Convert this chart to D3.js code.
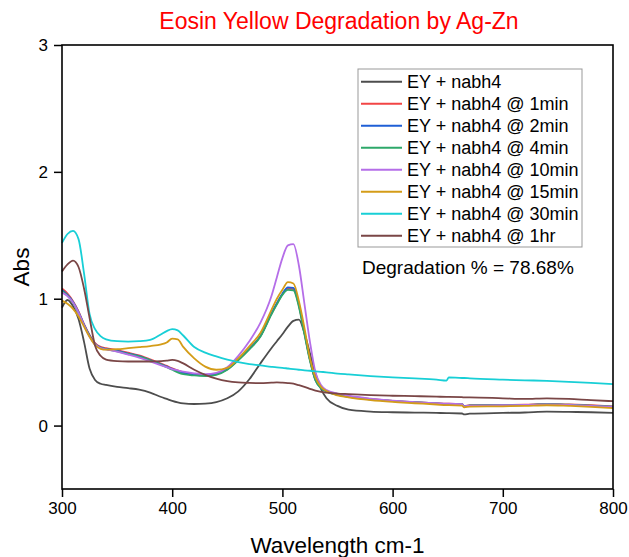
<!DOCTYPE html>
<html>
<head>
<meta charset="utf-8">
<script src="https://cdn.jsdelivr.net/npm/d3@7"></script>
<style>
  body { margin: 0; background: #fff; }
  svg { font-family: "Liberation Sans", Arial, sans-serif; }
</style>
</head>
<body>
<div class="container"></div>
<script>
const WIDTH = 629;
const HEIGHT = 557;

var wavelengths = [300,305,310,315,320,325,330,335,340,350,360,370,380,390,395,400,405,410,420,430,440,450,460,470,480,490,495,500,505,510,515,520,525,530,535,540,550,560,580,600,620,640,649,651,663,665,670,700,720,740,760,780,800];

var eyNabh4 = [0.93,0.99,0.94,0.84,0.66,0.45,0.36,0.33,0.32,0.305,0.295,0.283,0.26,0.225,0.21,0.195,0.183,0.175,0.17,0.173,0.185,0.215,0.27,0.365,0.49,0.61,0.665,0.72,0.78,0.825,0.835,0.73,0.57,0.41,0.29,0.215,0.155,0.125,0.11,0.105,0.102,0.1,0.098,0.098,0.095,0.088,0.094,0.1,0.103,0.11,0.108,0.105,0.1];
var at1min = [1.08,1.04,0.98,0.9,0.8,0.715,0.65,0.62,0.61,0.595,0.575,0.553,0.522,0.488,0.47,0.452,0.435,0.42,0.405,0.4,0.41,0.445,0.52,0.605,0.705,0.88,0.96,1.035,1.08,1.075,0.945,0.73,0.52,0.36,0.3,0.272,0.245,0.23,0.21,0.195,0.185,0.176,0.172,0.172,0.168,0.153,0.16,0.163,0.165,0.17,0.166,0.16,0.152];
var at2min = [1.07,1.03,0.975,0.895,0.795,0.71,0.645,0.615,0.605,0.588,0.568,0.547,0.517,0.483,0.465,0.447,0.43,0.416,0.4,0.396,0.408,0.445,0.52,0.605,0.705,0.885,0.965,1.04,1.09,1.085,0.955,0.735,0.52,0.36,0.298,0.27,0.242,0.226,0.206,0.192,0.182,0.173,0.169,0.169,0.166,0.15,0.157,0.159,0.161,0.167,0.163,0.156,0.147];
var at4min = [1.06,1.025,0.97,0.89,0.79,0.705,0.64,0.612,0.602,0.585,0.565,0.545,0.515,0.48,0.46,0.44,0.42,0.405,0.395,0.39,0.4,0.44,0.515,0.6,0.7,0.875,0.955,1.03,1.07,1.065,0.935,0.72,0.51,0.355,0.295,0.268,0.243,0.228,0.208,0.194,0.184,0.175,0.171,0.171,0.168,0.152,0.159,0.161,0.163,0.168,0.164,0.158,0.15];
var at10min = [1.05,1.02,0.97,0.89,0.79,0.7,0.64,0.61,0.6,0.583,0.56,0.535,0.505,0.475,0.46,0.445,0.435,0.425,0.412,0.405,0.415,0.46,0.55,0.665,0.81,1.02,1.17,1.32,1.42,1.43,1.26,0.96,0.66,0.42,0.32,0.28,0.252,0.235,0.212,0.196,0.185,0.176,0.172,0.172,0.168,0.152,0.158,0.16,0.162,0.167,0.163,0.156,0.147];
var at15min = [0.985,0.96,0.92,0.86,0.78,0.7,0.635,0.605,0.598,0.602,0.61,0.618,0.627,0.64,0.655,0.685,0.68,0.62,0.53,0.465,0.44,0.455,0.53,0.625,0.73,0.91,1.0,1.07,1.13,1.12,0.98,0.77,0.53,0.38,0.305,0.272,0.238,0.222,0.2,0.186,0.176,0.166,0.161,0.161,0.158,0.143,0.15,0.152,0.155,0.16,0.155,0.148,0.138];
var at30min = [1.44,1.51,1.535,1.47,1.2,0.88,0.76,0.705,0.68,0.665,0.662,0.665,0.675,0.72,0.745,0.76,0.75,0.71,0.62,0.575,0.545,0.52,0.5,0.485,0.475,0.463,0.458,0.455,0.45,0.445,0.44,0.435,0.432,0.428,0.424,0.42,0.41,0.403,0.39,0.38,0.372,0.362,0.355,0.38,0.375,0.375,0.372,0.362,0.357,0.352,0.345,0.336,0.326];
var at1hr = [1.215,1.27,1.3,1.25,1.08,0.85,0.63,0.55,0.52,0.508,0.505,0.505,0.505,0.508,0.512,0.518,0.51,0.49,0.44,0.4,0.37,0.35,0.34,0.336,0.334,0.338,0.34,0.338,0.335,0.33,0.318,0.305,0.29,0.275,0.266,0.26,0.252,0.248,0.24,0.235,0.232,0.228,0.226,0.226,0.224,0.222,0.222,0.215,0.21,0.215,0.21,0.2,0.192];

var seriesNames = ["EY + nabh4", "EY + nabh4 @ 1min", "EY + nabh4 @ 2min", "EY + nabh4 @ 4min",
                   "EY + nabh4 @ 10min", "EY + nabh4 @ 15min", "EY + nabh4 @ 30min", "EY + nabh4 @ 1hr"];
var seriesValues = [eyNabh4, at1min, at2min, at4min, at10min, at15min, at30min, at1hr];
var seriesColors = ["#4d4d4d", "#f24545", "#1f5fd6", "#2ea86a", "#b56ee8", "#d49c18", "#18cfd6", "#7a4646"];

var xTicks = [300, 400, 500, 600, 700, 800];
var yTicks = [0, 1, 2, 3];
var degradationLabel = "Degradation % = 78.68%";

var margin = {left: 62, right: 16, top: 45, bottom: 68};

var drawAxes = function(svg, x, y){
    var iw = WIDTH - margin.left - margin.right;
    var ih = HEIGHT - margin.top - margin.bottom;

    // minor ticks first, majors on top
    var xMinor = d3.range(350, 800, 100);
    var yMinor = [-0.5, 0.5, 1.5, 2.5];

    var gx = svg.append("g")
        .attr("transform", "translate(0," + (margin.top + ih) + ")");
    gx.call(d3.axisBottom(x).tickValues(xMinor).tickSize(5).tickFormat(""));
    gx.call(d3.axisBottom(x).tickValues(xTicks).tickSize(8).tickPadding(5).tickFormat(d3.format("d")));

    var gy = svg.append("g")
        .attr("transform", "translate(" + margin.left + ",0)");
    gy.call(d3.axisLeft(y).tickValues(yMinor).tickSize(5).tickFormat(""));
    gy.call(d3.axisLeft(y).tickValues(yTicks).tickSize(8).tickPadding(6).tickFormat(d3.format("d")));

    svg.selectAll(".domain").remove();
    svg.selectAll(".tick line").attr("stroke", "#000").attr("stroke-width", 1.5);
    svg.selectAll(".tick text")
        .attr("fill", "#000")
        .style("font-size", "17px")
        .style("font-family", "'Liberation Sans', Arial, sans-serif");

    svg.append("rect")
        .attr("x", margin.left)
        .attr("y", margin.top)
        .attr("width", iw)
        .attr("height", ih)
        .attr("fill", "none")
        .attr("stroke", "#000")
        .attr("stroke-width", 1.6);
};

var drawLines = function(svg, x, y){
    var line = d3.line()
        .x(function(d){ return x(d[0]); })
        .y(function(d){ return y(d[1]); })
        .curve(d3.curveMonotoneX);

    var order = [0, 1, 2, 3, 4, 5, 6, 7];
    order.forEach(function(i){
        var pts = wavelengths.map(function(w, j){ return [w, seriesValues[i][j]]; });
        svg.append("path")
            .datum(pts)
            .attr("d", line)
            .attr("fill", "none")
            .attr("stroke", seriesColors[i])
            .attr("stroke-width", 1.8)
            .attr("stroke-linejoin", "round");
    });
};

var drawLegend = function(svg){
    var lg = svg.append("g");
    lg.append("rect")
        .attr("x", 358)
        .attr("y", 69)
        .attr("width", 224)
        .attr("height", 178)
        .attr("fill", "#fff")
        .attr("stroke", "#999")
        .attr("stroke-width", 1);

    var rows = lg.selectAll("g.row")
        .data(seriesNames)
        .enter()
        .append("g")
        .attr("class", "row")
        .attr("transform", function(d, i){ return "translate(0," + (81.7 + i * 22) + ")"; });

    rows.append("line")
        .attr("x1", 361).attr("x2", 402)
        .attr("y1", 0).attr("y2", 0)
        .attr("stroke", function(d, i){ return seriesColors[i]; })
        .attr("stroke-width", 2);

    rows.append("text")
        .attr("x", 407)
        .attr("y", 0)
        .attr("dy", "0.35em")
        .style("font-size", "18px")
        .text(function(d){ return d; });

    svg.append("text")
        .attr("x", 362)
        .attr("y", 267)
        .attr("dy", "0.35em")
        .style("font-size", "19px")
        .text(degradationLabel);
};

var load = function(){
    var x = d3.scaleLinear()
        .domain([300, 800])
        .range([margin.left, WIDTH - margin.right]);
    var y = d3.scaleLinear()
        .domain([-0.5, 3])
        .range([HEIGHT - margin.bottom, margin.top]);

    var svg = d3.select(".container")
        .append("svg")
        .attr("width", WIDTH)
        .attr("height", HEIGHT);

    svg.append("text")
        .attr("x", 339)
        .attr("y", 29)
        .attr("text-anchor", "middle")
        .attr("fill", "#ff0000")
        .style("font-size", "23px")
        .text("Eosin Yellow Degradation by Ag-Zn");

    drawLines(svg, x, y);
    drawAxes(svg, x, y);
    drawLegend(svg);

    svg.append("text")
        .attr("x", margin.left + (WIDTH - margin.left - margin.right) / 2)
        .attr("y", 553)
        .attr("text-anchor", "middle")
        .style("font-size", "22.5px")
        .text("Wavelength cm-1");

    svg.append("text")
        .attr("transform", "translate(29,267) rotate(-90)")
        .attr("text-anchor", "middle")
        .style("font-size", "22.5px")
        .text("Abs");
};

window.onload = load;
</script>
</body>
</html>
